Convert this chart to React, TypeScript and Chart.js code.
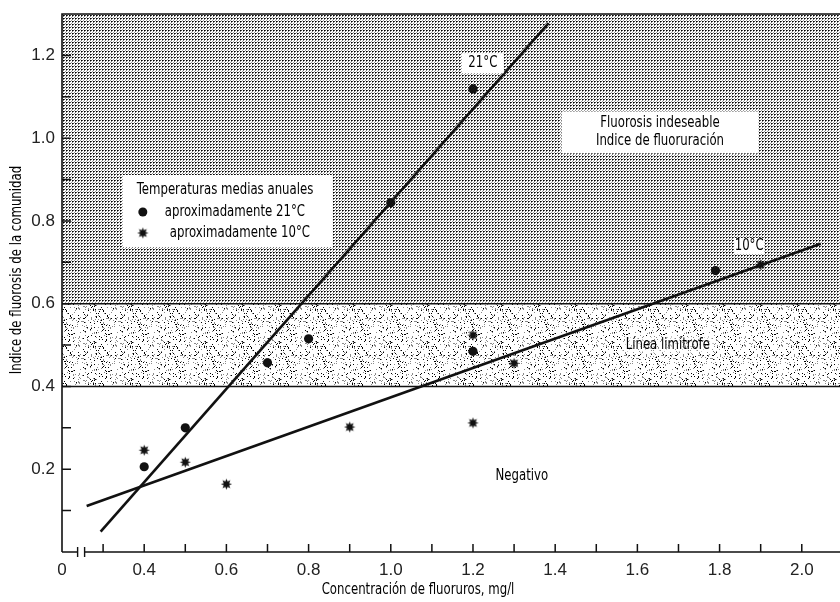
import React, { useEffect, useRef } from "react";
import { Chart, registerables } from "chart.js";

Chart.register(...registerables);

// ---- data ----
const circles21X = [0.4, 0.5, 0.7, 0.8, 1.0, 1.2, 1.2, 1.79];
const circles21Y = [0.206, 0.3, 0.457, 0.515, 0.844, 1.119, 0.485, 0.68];
const stars10X = [0.4, 0.5, 0.6, 0.9, 1.2, 1.2, 1.3, 1.9];
const stars10Y = [0.246, 0.217, 0.164, 0.302, 0.312, 0.524, 0.456, 0.694];
const fit21X = [0.294, 1.384];
const fit21Y = [0.049, 1.278];
const fit10X = [0.26, 2.046];
const fit10Y = [0.111, 0.745];
const zoneLimits = [0.4, 0.6];
const xTickValues = [0.2, 0.3, 0.4, 0.5, 0.6, 0.7, 0.8, 0.9, 1.0, 1.1, 1.2, 1.3, 1.4, 1.5, 1.6, 1.7, 1.8, 1.9, 2.0];
const xTickLabels = ["0", "", "0.4", "", "0.6", "", "0.8", "", "1.0", "", "1.2", "", "1.4", "", "1.6", "", "1.8", "", "2.0"];
const yTickValues = [0.1, 0.2, 0.3, 0.4, 0.5, 0.6, 0.7, 0.8, 0.9, 1.0, 1.1, 1.2];
const yTickLabels = ["", "0.2", "", "0.4", "", "0.6", "", "0.8", "", "1.0", "", "1.2"];
const axisBreak = [0.238, 0.255];

const xTitle = "Concentración de fluoruros, mg/l";
const yTitle = "Indice de fluorosis de la comunidad";
const legendTitle = "Temperaturas medias anuales";
const legendLabels = ["aproximadamente 21°C", "aproximadamente 10°C"];
const zoneUpperLines = ["Fluorosis indeseable", "Indice de fluoruración"];
const zoneMiddleLabel = "Línea limítrofe";
const zoneLowerLabel = "Negativo";
const line21Label = "21°C";
const line10Label = "10°C";

const COND = "'DejaVu Sans Condensed', 'Liberation Sans Narrow', 'Arial Narrow', sans-serif";
const INK = "#111";

function makeDensePattern(ctx: CanvasRenderingContext2D) {
  const t = document.createElement("canvas");
  t.width = 3;
  t.height = 3;
  const c = t.getContext("2d")!;
  c.fillStyle = "#fff";
  c.fillRect(0, 0, 3, 3);
  const px: [number, number, string][] = [
    [0, 0, "#000"],
    [1, 0, "#444"],
    [0, 1, "#777"],
    [2, 2, "#999"],
  ];
  px.forEach(([x, y, col]) => {
    c.fillStyle = col;
    c.fillRect(x, y, 1, 1);
  });
  return ctx.createPattern(t, "repeat");
}

function makeSpecklePattern(ctx: CanvasRenderingContext2D) {
  const n = 37;
  const t = document.createElement("canvas");
  t.width = n;
  t.height = n;
  const c = t.getContext("2d")!;
  c.fillStyle = "#fff";
  c.fillRect(0, 0, n, n);
  for (let y = 0; y < n; y++) {
    for (let x = 0; x < n; x++) {
      let h = (x * 374761393 + y * 668265263) | 0;
      h = Math.imul(h ^ (h >>> 13), 1274126177);
      h = (h ^ (h >>> 16)) >>> 0;
      const v = h % 100;
      if (v < 6) {
        c.fillStyle = "#000";
        c.fillRect(x, y, 1, 1);
      } else if (v < 14) {
        c.fillStyle = "#8a8a8a";
        c.fillRect(x, y, 1, 1);
      }
    }
  }
  return ctx.createPattern(t, "repeat");
}

function makeStar() {
  const s = 13;
  const t = document.createElement("canvas");
  t.width = s;
  t.height = s;
  const c = t.getContext("2d")!;
  const cx = s / 2;
  const cy = s / 2;
  const spikes = 8;
  const outer = 5.6;
  const inner = 2.9;
  c.beginPath();
  for (let i = 0; i < spikes * 2; i++) {
    const r = i % 2 === 0 ? outer : inner;
    const a = (Math.PI * i) / spikes - Math.PI / 2;
    const px = cx + r * Math.cos(a);
    const py = cy + r * Math.sin(a);
    if (i === 0) c.moveTo(px, py);
    else c.lineTo(px, py);
  }
  c.closePath();
  c.fillStyle = INK;
  c.fill();
  return t;
}

// condensed text: drawn a little taller and squeezed horizontally
function condText(
  ctx: CanvasRenderingContext2D,
  text: string,
  x: number,
  y: number,
  align: CanvasTextAlign = "center",
  size = 15,
  sx = 0.87
) {
  ctx.save();
  ctx.translate(x, y);
  ctx.scale(sx, 1);
  ctx.font = `${size}px ${COND}`;
  ctx.fillStyle = "#000";
  ctx.textAlign = align;
  ctx.textBaseline = "middle";
  ctx.fillText(text, 0, 0);
  ctx.restore();
}

export default function App() {
  const ref = useRef<HTMLCanvasElement | null>(null);

  useEffect(() => {
    const canvas = ref.current;
    if (!canvas) return;
    const ctx0 = canvas.getContext("2d")!;
    const dense = makeDensePattern(ctx0);
    const speckle = makeSpecklePattern(ctx0);
    const star = makeStar();

    const drawBoxText = (
      ctx: CanvasRenderingContext2D,
      cx: number,
      cy: number,
      w: number,
      h: number,
      lines: string[],
      lineGap: number,
      fill = "#fff"
    ) => {
      ctx.fillStyle = fill;
      ctx.fillRect(cx - w / 2, cy - h / 2, w, h);
      const start = cy - ((lines.length - 1) * lineGap) / 2;
      lines.forEach((l, i) => condText(ctx, l, cx, start + i * lineGap));
    };

    const bgPlugin = {
      id: "zones",
      beforeDatasetsDraw(chart: any) {
        const { ctx, chartArea: ca, scales } = chart;
        const y = scales.y;
        const yHi = y.getPixelForValue(zoneLimits[1]);
        const yLo = y.getPixelForValue(zoneLimits[0]);
        ctx.save();
        ctx.fillStyle = dense;
        ctx.fillRect(ca.left, ca.top, ca.right - ca.left, yHi - ca.top);
        ctx.fillStyle = speckle;
        ctx.fillRect(ca.left, yHi, ca.right - ca.left, yLo - yHi);
        ctx.strokeStyle = INK;
        ctx.lineWidth = 1.5;
        [yHi, yLo].forEach((yy) => {
          ctx.beginPath();
          ctx.moveTo(ca.left, yy);
          ctx.lineTo(ca.right, yy);
          ctx.stroke();
        });
        ctx.restore();
      },
      afterDatasetsDraw(chart: any) {
        const { ctx, scales } = chart;
        const x = scales.x;
        const y = scales.y;
        ctx.save();
        drawBoxText(ctx, x.getPixelForValue(1.224), y.getPixelForValue(1.181), 42, 20, [line21Label], 0);
        drawBoxText(ctx, x.getPixelForValue(1.872), y.getPixelForValue(0.7395), 30, 16, [line10Label], 0);
        drawBoxText(ctx, x.getPixelForValue(1.655), y.getPixelForValue(1.014), 197, 42, zoneUpperLines, 18);
        drawBoxText(
          ctx,
          x.getPixelForValue(1.674),
          y.getPixelForValue(0.5),
          92,
          18,
          [zoneMiddleLabel],
          0,
          "rgba(255,255,255,0.55)"
        );
        condText(ctx, zoneLowerLabel, x.getPixelForValue(1.319), y.getPixelForValue(0.184));

        // legend
        const lx = x.getPixelForValue(0.348);
        const ly = y.getPixelForValue(0.911);
        const lw = 210;
        const lh = 72;
        ctx.fillStyle = "#fff";
        ctx.fillRect(lx, ly, lw, lh);
        condText(ctx, legendTitle, lx + 14, ly + 15, "left");
        ctx.fillStyle = INK;
        ctx.beginPath();
        ctx.arc(lx + 20, ly + 37, 4.5, 0, Math.PI * 2);
        ctx.fill();
        condText(ctx, legendLabels[0], lx + 42, ly + 37, "left");
        ctx.drawImage(star, lx + 20 - star.width / 2, ly + 58 - star.height / 2);
        condText(ctx, legendLabels[1], lx + 47, ly + 58, "left");
        ctx.restore();
      },
      afterDraw(chart: any) {
        const { ctx, chartArea: ca, scales } = chart;
        const x = scales.x;
        const y = scales.y;
        ctx.save();
        ctx.strokeStyle = INK;
        ctx.lineWidth = 1.6;
        ctx.beginPath();
        ctx.moveTo(ca.right, ca.top);
        ctx.lineTo(ca.left, ca.top);
        ctx.lineTo(ca.left, ca.bottom);
        ctx.stroke();
        const b1 = x.getPixelForValue(axisBreak[0]);
        const b2 = x.getPixelForValue(axisBreak[1]);
        ctx.beginPath();
        ctx.moveTo(ca.left, ca.bottom);
        ctx.lineTo(b1, ca.bottom);
        ctx.moveTo(b2, ca.bottom);
        ctx.lineTo(ca.right, ca.bottom);
        ctx.stroke();
        ctx.lineWidth = 1.4;
        ctx.beginPath();
        [b1, b2].forEach((bx) => {
          ctx.moveTo(bx, ca.bottom - 5);
          ctx.lineTo(bx, ca.bottom + 5);
        });
        ctx.stroke();
        ctx.lineWidth = 1.5;
        ctx.beginPath();
        x.ticks.forEach((t: any) => {
          if (t.value <= xTickValues[0] + 1e-9) return;
          const px = x.getPixelForValue(t.value);
          ctx.moveTo(px, ca.bottom);
          ctx.lineTo(px, ca.bottom - 8);
        });
        y.ticks.forEach((t: any) => {
          const py = y.getPixelForValue(t.value);
          ctx.moveTo(ca.left, py);
          ctx.lineTo(ca.left + 9, py);
        });
        ctx.stroke();
        condText(ctx, xTitle, 418, 590);
        ctx.translate(17, 270);
        ctx.rotate(-Math.PI / 2);
        condText(ctx, yTitle, 0, 0);
        ctx.restore();
      },
    };

    const chart = new Chart(canvas, {
      type: "scatter",
      data: {
        datasets: [
          {
            label: "fit 21",
            data: fit21X.map((v, i) => ({ x: v, y: fit21Y[i] })),
            showLine: true,
            borderColor: INK,
            borderWidth: 2.6,
            pointRadius: 0,
            fill: false,
          },
          {
            label: "fit 10",
            data: fit10X.map((v, i) => ({ x: v, y: fit10Y[i] })),
            showLine: true,
            borderColor: INK,
            borderWidth: 2.6,
            pointRadius: 0,
            fill: false,
          },
          {
            label: legendLabels[0],
            data: circles21X.map((v, i) => ({ x: v, y: circles21Y[i] })),
            pointStyle: "circle",
            pointRadius: 4.6,
            backgroundColor: INK,
            borderWidth: 0,
          },
          {
            label: legendLabels[1],
            data: stars10X.map((v, i) => ({ x: v, y: stars10Y[i] })),
            pointStyle: star as any,
            pointRadius: 6,
            backgroundColor: INK,
            borderWidth: 0,
          },
        ],
      },
      options: {
        animation: false,
        responsive: false,
        layout: { autoPadding: false, padding: { top: 14, right: 0, bottom: 0, left: 0 } },
        plugins: { legend: { display: false }, tooltip: { enabled: false } },
        scales: {
          x: {
            type: "linear",
            min: 0.2,
            max: 2.093,
            grid: { display: false, drawTicks: false },
            border: { display: false },
            afterBuildTicks: (s: any) => {
              s.ticks = xTickValues.map((v) => ({ value: v }));
            },
            afterFit: (s: any) => {
              s.height = 50;
              s.paddingLeft = 0;
              s.paddingRight = 0;
            },
            ticks: {
              autoSkip: false,
              maxRotation: 0,
              padding: 8,
              color: "#222",
              font: { family: "'Liberation Sans', Arial, sans-serif", size: 17 },
              callback: (_v: any, i: number) => xTickLabels[i],
            },
          },
          y: {
            type: "linear",
            min: 0,
            max: 1.3,
            grid: { display: false, drawTicks: false },
            border: { display: false },
            afterBuildTicks: (s: any) => {
              s.ticks = yTickValues.map((v) => ({ value: v }));
            },
            afterFit: (s: any) => {
              s.width = 62;
              s.paddingTop = 0;
              s.paddingBottom = 0;
            },
            ticks: {
              autoSkip: false,
              padding: 7,
              color: "#222",
              font: { family: "'Liberation Sans', Arial, sans-serif", size: 17 },
              callback: (_v: any, i: number) => yTickLabels[i],
            },
          },
        },
      },
      plugins: [bgPlugin],
    });

    return () => chart.destroy();
  }, []);

  return (
    <div style={{ position: "absolute", left: 0, top: 0, width: 840, height: 602, background: "#fff" }}>
      <canvas ref={ref} width={840} height={602} style={{ display: "block" }} />
    </div>
  );
}
